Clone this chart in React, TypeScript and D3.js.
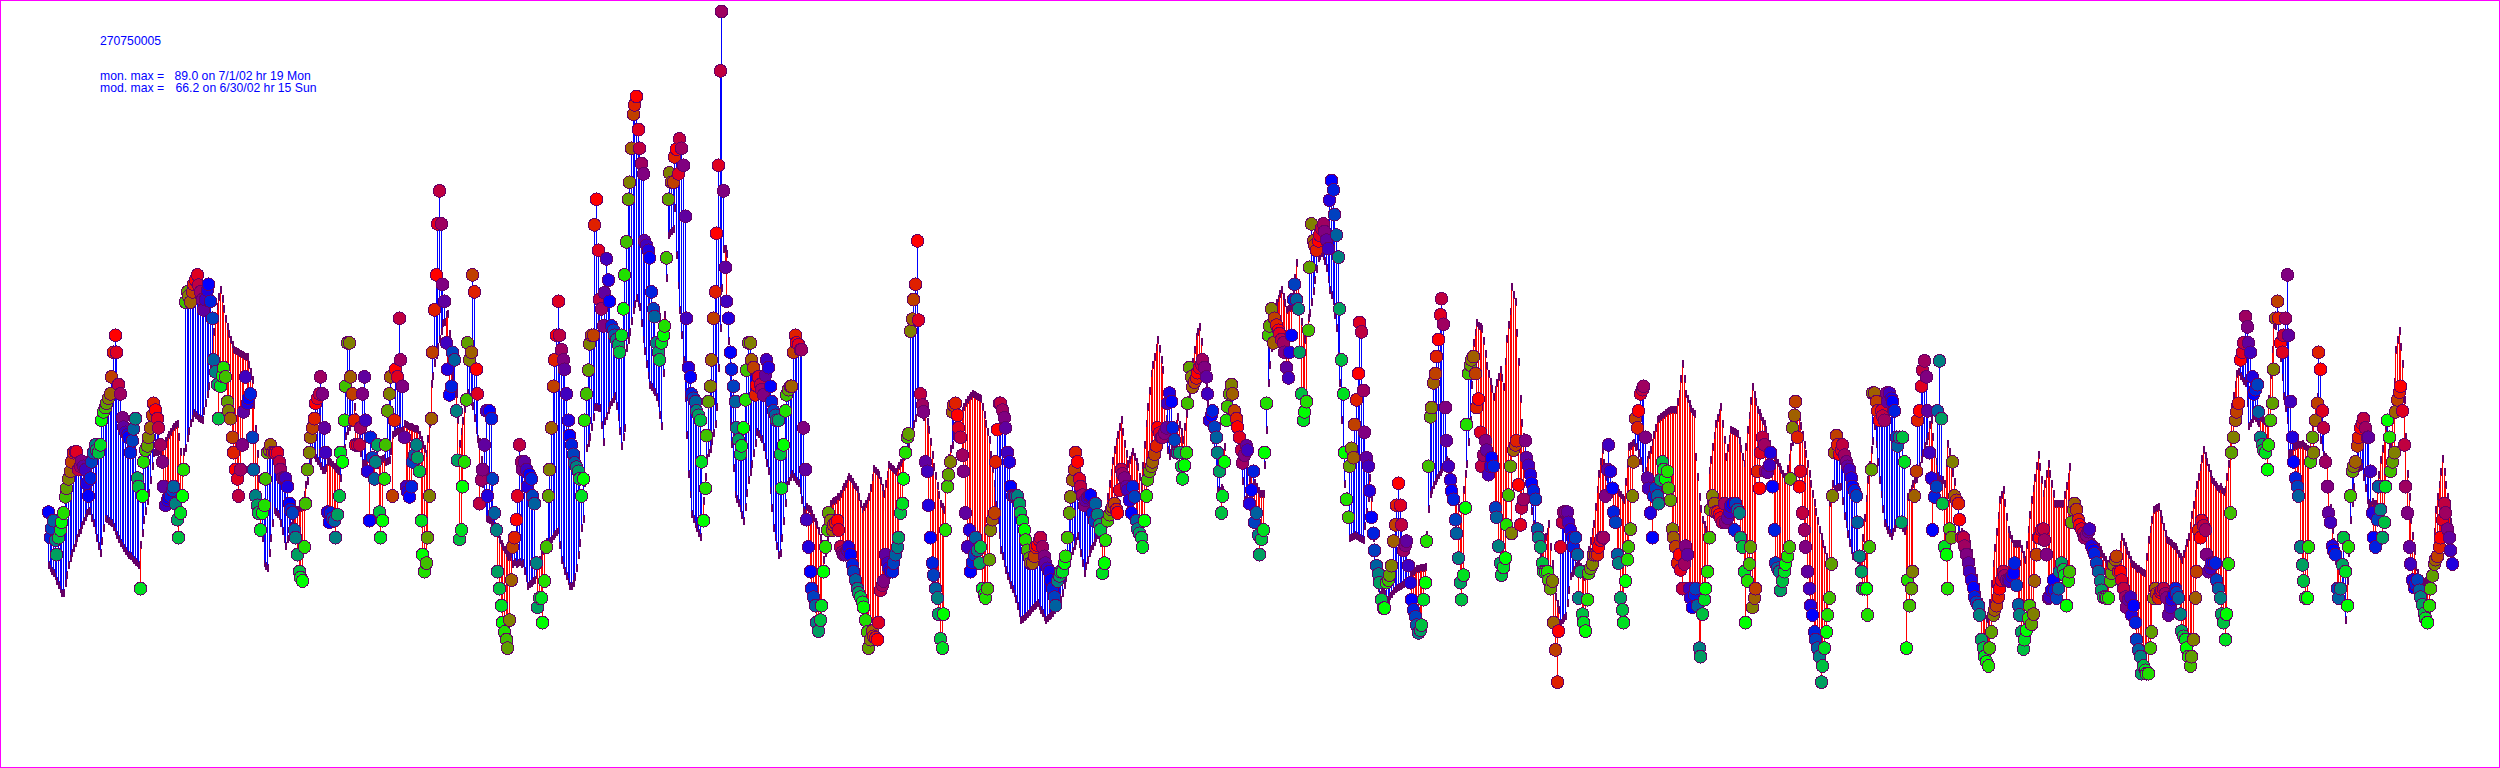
import React from "react";
import * as d3 from "d3";

const monA=[
[30.1,27.1,28.2,29.1,26.8,25.1,27.1,28,28.9,30,31.9,32.9,34,34.9,36,37.1,37.2,37.2,35.1,35.5,36.1,35.5,35.1,33.5],
[32,34.1,36,37.1,38,37.4,37.1,38,40.9,41.9,42.4,42.9,43.5,44,46,48.9,50.9,48.9,45.1,44,41.2,40.1,39.5,39.2],
[38.9,37.1,38.5,39.9,41.1,34.1,33.1,21.1,32,36,37.4,37.9,38.9,40,41.5,42.9,42.1,41.1,40,38,36,33.1,30.9,31.5],
[31.8,32,32.7,33.1,31.1,29.2,27.1,30,32,35.1,54.8,56,55.5,54.8,56,56.9,57.4,58,56.8,56,55.1,53.9,55.1,56.2],
[56.9,54.9,52.9,48,46.6,45.1,41.1,44.9,46.1,47.1,46,43.1,42,41.1,38.9,37.1,35.1,34,32,35.1,38,41.9,46,42.9],
[43.5,44,38.9,35.1,32,30.9,30,28,30,30.9,34,37.1,37.4,38,37.1,37.1,37.1,37.1,36,35.1,34.1,34.1,34.1,33.1],
[31.1,30.4,30,28,27.1,25.1,23.1,22.4,22,26,31.1,35.1,37.1,38.9,40,41.1,42.9,43.5,44,46,44,40,37.1,30.1],
[28.9,30,29.4,29.1,27.1,29.8,32,37.1,36,40.9,44.9,50,50,46,44,40.9,38,38,38,40,44,46,40.9,34.9],
[29.1,38.9,36.5,34,36,38,30.1,27.1,29.1,34,38,42,44,46,32,40.9,46.9,46,52.9,48,44.9,38.9,33.1,32.5],
[31.9,33.1,36,36.8,38,36.5,34.9,29.1,25.1,23.1,24.1,27.1,32,41.1,48.9,53.9,58,64,67.9,64,56.9,54.9,50,46.9]];
const monB=[
[43.9,44.9,48.9,48,42,36.2,26.9,28,33.1,36,43.3,50,48,48.9,58,56,46.9,44,31.1,33.9,35.1,38,42,32],
[42,41.1,34,30,28,23.1,21.1,19.1,17.1,16,15.1,14.1,17.4,22.1,26,27.1,29.2,32,38,36,35.1,36,35.1,33.1],
[34.5,34,32,31.1,24.1,18.9,20,20,17.1,22,26,32,35.1,40,44.9,48,50.9,54.9,50.9,49.2,48,46.9,44,40.9],
[39.1,38,36.9,35.9,35.4,34.9,34,32,34,40.9,44,46.8,49.9,50.9,50.9,63.9,66.9,60.9,55.1,54,52,55.9,59.9,57.4],
[54.9,52,51.5,50.9,50.4,49.8,48.9,50.9,54,58,61.9,66.9,68.9,72.9,76.9,78,79,75.1,72.9,71.1,69.9,62,61.5,60.9],
[60,56,54,53.1,50,48.9,48,50,50.9,52,60,66.9,70,68.9,68.9,71.9,72.8,69.9,74,72.9,70.9,64.9,52.9,47.1],
[46,44,43.5,43.1,42,41.5,40.9,36,29.1,32.9,39.1,43.1,44.9,48,52.9,56,62.9,70.9,82,89,67.9,58.9,54.9,52.9],
[48.9,46.9,44.9,43.1,40,38.6,36.9,37.9,40,43.3,46.8,50,50,48,47.1,43.9,45,46,45.1,44.5,43.9,46.2,48,47.1],
[44.9,43.1,42,41.5,40.9,40.9,36.9,32.9,38,42,43.9,44.5,44.9,44.9,48.9,50.9,50,49.8,49.2,49.2,40,35.1,29.2,26],
[23.1,21.1,20.1,19.1,17.1,16.1,17.4,19.1,23.1,26,28,30,29.1,28,28.6,28.8,29.1,28,26,25.4,25.1,25.1,25.6,26]];
const monC=[
[25.1,23.9,23.1,22.1,21.1,20.6,20.1,19.5,18.9,17.4,16,14.1,15.1,16.1,15.5,15.3,15.1,17.1,20.9,21.5,22,25.1,24.1,23.5],
[23.1,23.1,24.1,25.1,26,27.1,30,31.1,34,37.1,38.9,39.3,51.4,52.8,55.1,56.9,62,52.7,44,42.7,41.9,36,34.9,30.9],
[27.1,24.1,22.7,21.1,20,18.1,15.2,14.1,18.1,28,33.1,34.5,36,41.9,42.7,42.9,41.5,40,38.9,36.8,34.9,30,26,28],
[23.1,24.2,25.1,27.1,25.6,24.1,26,21.1,20.4,20,21.1,24.5,28,29.2,30,36,39.8,42.9,42.9,42.1,41.2,40,37.1,36],
[33.1,32,32,32,32,31.1,30,29.1,28,26.8,25.6,24.7,24.1,24.1,24.9,26,26.2,26.8,27.1,26,24.9,24.1,23.5,23.1],
[22.1,21.1,20.1,19.1,22,22.6,23.1,23.1,24.1,24.9,27.1,30,31.9,33.9,35.1,37.1,36,34,33.1,32.1,30.9,31.5,31.8,32],
[32.1,30,29.1,31.1,29.8,28.6,28,22.9,24.1,26.8,29.1,29.8,30.4,30.7,31.1,30.4,30,32.7,35.1,34.6,34.1,33.1,32.7,31.5],
[30,33.1,31.9,29.1,28.1,27.6,27.1,26,29.1,32,33.9,34.9,35.5,36,36.9,37.9,40,39.4,38.9,38.9,39.4,40,42.9,44.1],
[43.1,40,38.6,37.1,37.1,37.1,35.5,34,35.6,37.1,42.9,47.1,46,44.8,45.4,45.9,46.5,47.1,47.5,48,47.1,46,44,40.9],
[41.5,42,40.1,38.9,37.1,34.9,30,32,36,40.9,42.5,44,45.1,44,42,41.1,40.1,38.9,37.4,35.9,36.8,37.9,37.4,31.1]];
const monD=[
[32.7,34.9,28.9,30,27.4,25.1,26.9,28,37.1,42.9,50.9,52,54,50,52.9,52.1,51.5,51.1,50.4,50,48.9,47.1,45.9,48.9],
[50.9,55.1,56.9,55.1,54,48.9,44,40.9,41.9,43.1,51.5,58.9,64,62,61.5,60.9,62,62.7,63.5,64,63.1,62.1,61.1,66.8],
[69.1,68,65.1,62.7,60.1,54,48,44,37.1,31.6,29.5,35.5,37.6,36.5,40.4,43.3,46.4,52.4,51.3,44.4,39.5,36.5,35.5,32.6],
[29.5,27.6,25.6,23.8,22.8,21.8,19.8,18.8,18.8,21.8,22.1,22.7,23.8,26.7,28.6,30.9,33.5,30.9,28.6,25.6,26.2,26.7,23.8,21.8],
[19.8,18.6,17.8,16.8,15.9,16.2,16.8,19.8,21.8,26.7,35.5,41.3,42.4,45.3,46.4,48.4,50.4,53.3,55.2,52.2,42.4,38.5,35.5,33.9],
[32.6,31.6,29.2,27.6,24.7,21.8,19.8,22.7,30.6,40.4,46.4,47.4,48,48.4,46.4,42.4,43.4,39.5,35.5,36.8,38.5,37.4,34.5,35.5],
[36.5,35.5,30.6,29.5,26.1,24.1,22.7,23.6,24.7,28.6,32.1,35.5,27.6,37.4,38,38.5,33.3,28.6,30.6,31.6,38.5,36.5,35.6,34.5],
[33.5,32.6,31.6,28.1,27.1,26,24.1,23.1,23.1,23.1,22.1,21.1,22,17.1,13.9,10.1,16.1,26,28.9,30.1,30.1,30.1,28.9,28],
[27.1,26,27.1,25.1,20,23.1,18.1,17.1,16.1,19.8,22.9,23.5,24,25.1,25.1,25.1,26,26.8,27.1,27.1,32,35.1,38,34.9],
[32.9,30.1,28.9,25.1,24.1,20,18.6,17.1,22,24.5,26,28.1,32,36,41.1,40,42,44,44.5,44.9,38.9,34.1,32.9,30]];
const monE=[
[27.1,32,32.9,32,31.1,33.9,36,35.1,34,34.9,32.9,31.5,28.1,27.1,26,24.1,25.1,23.3,21.1,24,26.1,25.1,21.1,20],
[18.9,20.4,21.1,19.1,14.1,13.1,18.1,19.8,21.1,23.1,27.1,30.4,32,31.1,30.1,30.1,29.8,29.4,28.9,31.1,28.9,29.4,30.1,30.8],
[31.1,28,31.1,30.4,30,27.1,26,23.1,17.1,22,24,26,18.9,20,21.1,34.9,32.9,37.1,38.9,38,34.9,34.8,35.6,37.1],
[33.1,28,24.1,23.5,23.1,20.9,22,23.1,24,24.9,26,34,40,41.5,43.1,38.9,33.1,34.9,30,28,26,23.1,21.1,19.1],
[18,16,15.1,14.1,13.1,10.1,12,14.1,16,18,20,24,32,37.1,39.1,38,36.9,37.4,38,36.8,36,35.5,35.1,34.1],
[33.1,32.6,32,28.9,24.9,23.1,21.1,21.1,21.1,18,26,35.1,44.1,44.1,43.1,42,40.9,42,41.4,40.9,44.1,43.1,44.1,43.5],
[43.1,42,38.9,37.9,38.9,28.9,38.9,36,14.1,22.1,19.1,21.1,23.1,32,34.9,40.9,42,44.9,46.8,47.9,46,42,37.1,34.1],
[28,31.9,33.1,42,47.9,41.1,31.1,26,25.1,21.1,28.1,27.1,36,32,31.5,31.1,29.2,27.1,27.1,26.1,25.1,24.1,23.1,22.1],
[21.2,20.1,19.5,19.1,18,15.1,14.1,13.1,12.5,12,14.1,16,18,18.6,19.1,20.1,21.1,22.1,23.1,22.6,22.1,22.1,22,22.5],
[22.9,24.1,21.5,19.2,18,16,14,15.1,16.2,17.6,19.1,16.9,18.1,22,25.1,27.1,27.1,28,28.1,26.8,25.1,20,20.1,20.9]];
const monF=[
[22.1,20.9,20,21.1,23.1,24.1,23.3,22.7,19.1,22,23.1,28.9,30.4,31.1,30.4,29.2,28.6,28.1,27.6,27.1,27.4,27.8,28.1,26.1],
[25.6,25.2,24.1,23.1,22,20.9,20.1,20.1,20,20,22,22.9,23.9,24.5,24.9,23.1,23.1,22.1,21.1,20.1,18.9,19.8,20.1,18],
[19.1,17.1,15.1,13.9,13.1,11.1,12,11.5,11.1,11.1,14.1,16,20,21.1,20.5,20,20.7,20.9,21.1,20.5,20,18,18.9,19.8],
[20.4,21.1,20.6,20,18.1,16.1,15.5,15.1,14.1,13.1,12,13.1,15.1,20,23.1,28,27.1,29.1,28.5,28,25.1,23.1,23.5,24.1],
[24.1,24.1,22.1,21.1,20,18.1,17.1,15.1,18.1,24,30,37.1,38.9,40.9,41.9,42.9,48,48.9,50,53.1,51.9,50,48.9,46],
[44,44.5,45.1,41.9,38.9,38,37.4,37.1,35.1,38,40.9,42.9,46.9,52.9,54.9,52.9,50,48.9,50.9,52.9,58,50.9,43.1,38.9],
[36,34.1,33.1,32,26,23.9,22,20,20,26,36,38.9,37.1,40.9,42.9,48.9,46.9,42,40,36,33.1,30,28.9,26.1],
[25.6,25.1,21.1,20,21.1,23.9,27.1,23.1,19.1,26,32,34.9,35.5,36,37.9,38.9,40,40.5,41.1,40,38.9,38.9,34.9,30],
[27.1,26,29.2,33.1,30.4,27.1,28.9,33.1,40.9,38.9,34.9,36,37.1,41.9,43.3,44.2,44.9,42,38,33.1,30,26,24,22.1],
[21.2,21.6,22.1,20.9,20.1,19.2,18.2,17.6,17.1,19.1,21.1,22.6,24,24.5,24.9,26,27.1,29.2,31.1,30,28.1,27.1,25.6,24]];

// Hourly modelled values (ppb), one row per day
const modA=[
[24.2,23.9,23.5,23.3,22.9,22.4,21.9,21.4,20.9,20.9,22.1,23.1,24.2,25.1,25.6,26.2,26.8,27.4,28,28.4,28.9,29.4,29.9,30.4],
[30.6,30.6,29.8,29.2,28.4,27.4,26.5,25.6,27.1,28.6,29.8,29.6,29.4,29.3,29.2,28.7,28.2,27.8,27.3,26.8,26.6,26.2,25.9,25.6],
[25.4,25.3,25.1,24.8,24.6,24.5,24.2,25.9,28,29.5,30.6,31.8,32.7,34.2,35.9,37.4,37.5,37.5,37.6,37.6,37.8,37.8,38.1,38.5],
[38.8,39.2,39.5,39.8,40,40.1,38.6,36.8,35.1,36.8,38,39.2,40,40.9,41.5,42.1,41.9,41.8,41.5,41.4,41.3,42.4,43.3,44.4],
[45.3,47.4,49.2,50.9,52.5,53.9,55.1,55.9,54.8,53.6,52.5,51.5,50.7,50,49.4,48.8,48.7,48.6,48.5,48.4,48.2,48.1,48,48],
[47.1,46.2,45.3,42.4,39.5,36.6,33.6,30.4,27.4,24.5,24.1,23.9,25.6,27.4,29.2,30.7,30.5,30.2,30,29.2,28.2,27.3,26.5,27.3],
[28,28.8,29.5,29.8,29.9,30,30.1,30.2,30.4,31.8,32.9,34.1,35.4,36.5,37.4,37.2,36.8,36.5,36.2,35.9,35.4,35.4,35.6,35.6],
[35.6,35.5,35.3,35.1,34.8,34.6,34.5,34.5,36.2,38,39.4,40,40.5,40.9,41.5,42.1,40.9,39.8,38.6,37.4,36.2,36.2,36.2,36.2],
[36.2,36.2,36.2,36.2,36.1,36,35.9,35.9,36,36.1,36.4,36.5,36.6,37.6,38.8,39.8,39.9,40,40,40,40.1,40.1,40,39.9],
[39.8,39.8,39.6,39.5,39.5,39.4,38.8,38.2,37.6,37.2,36.6,38.4,40.1,44.8,46.5,48,48.9,49.9,50.8,51.8,52.7,52.8,52.9,53.1]];
const modB=[
[50.7,48.6,46.5,45.1,43.6,40.6,37.8,39.2,40.5,41.9,43.3,44.5,44,43.4,42.9,41.5,40.1,39.1,38,35.9,33.8,31.6,29.8,29.6],
[29.5,29.4,29.1,28.8,28,27.2,26.5,26,25.6,25.3,24.8,24.5,24.5,24.7,24.4,24.6,24.3,24.5,24.6,24.4,24.5,23.5,22.7,21.8],
[22,22.1,22.4,22.5,23.1,23.5,24.1,24.7,25.2,25.8,26.2,26.8,27.1,27.3,27.6,27.9,28.1,28.4,26.6,24.8,24.2,23.5,22.9,22.4],
[21.8,21.8,22.1,22.8,23.9,25.4,26.8,28.6,29.6,33.9,38,38.6,39.3,40.5,41.6,42.8,42.8,42.7,42.7,40.7,38.7,41.2,41.8,42.5],
[43.1,43.4,43.8,44.1,42.9,41.6,40,38.2,39.3,40.4,49.8,50.7,51.6,52.9,54.2,54.9,55.6,55.1,54.6,52.7,50.8,49.4,47.9,46.6],
[45.4,45.2,44.8,44.6,44,43.3,41.9,40.6,46.8,52.9,58,63.1,63.3,63.5,63.8,66.2,60.7,57.2,54.2,51.3,48.4,43.9,39.5,34.9],
[32.6,30.2,29.6,29.1,28.6,28,27.5,29.3,31.1,33.9,36.8,37.4,37.9,38.8,39.8,40.8,42.8,47.4,52.1,56.8,61.4,60.7,60.1,50.6],
[41.2,38.5,35.7,32.6,32,31.5,30.9,30.1,29.4,31.1,32.7,34.2,35.2,36.1,37.4,38.6,39.9,39.6,39.3,39.1,38.1,37.2,36.2,35.3],
[33.1,30.9,28.6,27.5,26.5,25.4,25.6,27.4,29.4,31.5,33.6,34.1,34.6,34.9,34.6,34.4,34.1,33.9,33.1,31.9,30.7,30.5,30.4,30.1],
[30,29.5,29.1,28.6,28.2,27.5,26.7,26,24.1,25.6,27.4,29.2,30.7,30.9,31.1,31.2,31.5,31.5,31.9,32.4,32.7,33.1,33.5,33.9]];
const modC=[
[33.6,33.3,32.9,32.7,32.4,31.5,30.7,30,30.4,30.7,31.1,31.5,32.6,33.8,34.8,34.6,34.4,34.1,33.4,32.6,31.9,33.1,34.1,35.3],
[35.1,34.8,34.7,34.5,34.8,35.2,35.5,35.9,36.2,37.1,37.8,38.6,39.3,40,40.8,41.5,42.2,42.9,42.4,42.1,41.6,41.3,40.4,39.4],
[38,36.5,35.1,34,32.8,31.8,30.7,30.4,30,32.5,35.1,36.1,37.2,38.4,39.4,39.9,40.4,40.8,41.3,41.6,42.1,42.6,42.9,43.2],
[43.4,43.6,43.5,43.4,43.3,43.2,43.1,42.1,41.2,40.1,39.2,38.2,36.5,34.8,33.1,31.3,29.5,27.8,26,25.3,24.5,23.7,22.9,22.5],
[21.9,21.4,20.9,20.2,19.4,18.6,17.8,17.9,18.1,18.2,18.5,18.7,18.9,19.2,19.4,19.5,19.8,19.4,18.9,18.6,18.1,17.8,18,18.2],
[18.4,18.6,18.9,19.2,19.5,19.8,20.1,20.9,21.9,22.7,23.7,24.5,25.3,25.9,26.5,27.1,27.6,26.7,25.6,24.5,23.3,24.1,24.8,25.6],
[26.1,26.5,26.9,27.4,27.8,27.3,26.8,26.5,28.1,29.8,31.5,33.1,34.4,35.8,37.1,38,38.8,39.8,40.6,39.2,37.8,36.6,35.4,35.9],
[36.4,36.8,36.2,35.6,35.1,33.9,32.7,35.2,37.6,40.1,42.1,44,46,47.1,48,49,50,48.9,47.6,46.5,43.5,40.7,37.8,37.1],
[37.9,38.6,39.4,40.1,40.9,40,39.2,38.2,39.8,41.3,42.9,44.5,45.9,47.4,48.8,50.4,50.9,51.5,49.8,48,46.8,45.6,43.3,41.9],
[40.4,38.9,37.4,35.3,33.1,32.9,32.6,32.4,37.4,42.5,42.4,42.2,42,41.9,41.8,40.4,39.1,37.6,36.2,34.1,31.9,32.5,33.1,33.6]];
const modD=[
[34.2,33.8,33.2,32.7,32.2,31.9,31.9,31.9,36,40.1,45.6,47.8,49.8,51.8,53.9,54.4,54.8,55.4,55.9,55.1,54.4,53.5,53.6,53.8],
[53.9,55.5,57.3,59,56.7,54.4,52.1,51.1,50,51.3,52.6,53.9,55.2,56.5,57.8,59.1,60.4,60.6,60.9,60.6,60,59.2,57.9,56.6],
[56,55.3,53.6,52.1,48.9,45.6,41.3,37.5,33.8,31.6,29.5,27.4,27.5,27.6,27.8,27.6,27.5,27.4,27.3,27.2,28.8,30.5,32.1,33.8],
[31.4,27.4,23.4,22.5,21.5,20.7,20.5,20.2,20.1,19.9,20.2,20.6,20.8,21.2,21.4,21.5,21.6,21.8,21.9,22,22.1,22.2,22.4,22.5],
[22.6,22.7,22.8,23.1,23.1,23.2,23.2,23.2,23.3,27.1,30.8,32.6,33.1,33.6,34.1,34.5,34.8,35.2,35.5,35.9,36.2,36.6,35.6,34.7],
[33.8,33.1,32.5,31.8,30.2,28.6,30.5,32.4,34.2,36.1,38.7,41.3,45.4,49.6,50.8,52,51.7,51.5,51.3,49.9,48.4,46.9,46,45.1],
[44.2,43.3,44.1,44.9,45.6,46.5,45.5,44.5,47.4,50.1,51.8,53.3,56.2,55.3,54.5,50.8,47.4,43,40.2,38.6,37,35.5,33.8,32.2],
[30.6,29,27.9,26.8,26,25.3,25.8,26.4,26.8,27.4,28.4,25.6,23.6,21.8,19.8,18.9,18.2,17.4,17.8,18,18.2,19.8,21.3,22.9],
[23.3,23.6,24.1,24.5,23.9,23.3,22.7,22.1,23.2,24.2,25.3,26.4,27.4,28.4,30.4,32.4,34.2,35.6,37.1,35.5,33.9,33.5,33.1,32.7],
[32.6,32.5,32.5,32.4,32,31.8,31.4,31.2,33.3,35.3,37.4,37.5,37.8,37.9,38.1,38.2,37.4,36.5,35.6,34.7,35.3,35.9,36.5,37.1]];
const modE=[
[37.9,38.8,39.6,40.6,40.7,40.9,41.1,41.2,41.4,41.5,41.6,41.8,41.8,41.8,41.8,42.7,43.6,45.4,47.2,45.4,43.6,43.1,42.5,41.9],
[41.5,41.3,36.2,33.9,31.5,30.1,28.8,28.2,27.6,31.1,34.6,35.9,37.4,38.7,40.1,40.8,41.4,42.1,40.1,38.2,36.2,37.3,38.4,39.4],
[39.3,39.2,39.1,38.9,38.1,37.2,36.2,35.4,37.4,39.4,41.1,42.8,44.5,43.5,42.7,41.8,41.4,40.9,40.5,40.1,39.4,38.6,37.8,37.1],
[36.7,36.2,35.9,35.5,35.1,34.7,34.2,33.9,33.5,34.8,36.1,37.4,38.7,40,41.3,41.1,40.9,39.9,38.8,37.6,36.6,35.4,34.2,33.1],
[31.9,30.8,29.8,28.7,27.6,26.8,26,25.3,24.5,23.7,30.8,32,33.1,33.2,33.3,33.4,33.4,33.5,31.8,30,29,27.9,26.8,26],
[25.3,25.2,25,24.8,24.7,24.5,26.7,29,31.3,33.5,35.3,37.1,38.8,40.6,38.5,36.4,34.2,32.6,30.8,29.2,28.8,28.4,28,27.6],
[28.1,28.6,29.1,29.5,29.2,28.9,28.6,28.2,28,31.5,32,32.5,33.1,33.5,34.4,35.1,35.9,36.7,37.4,38.2,38.8,39.4,40,40.6],
[38.6,36.6,35.6,34.7,34.4,33.9,33.5,33.1,35.4,37.8,36.8,36,35.1,33.3,31.5,28,27.8,27.4,27.2,26.8,26.6,26.2,26,24.9],
[23.9,22.8,22,20.9,20,19.2,18.2,17.6,17.2,16.6,19,21.3,23.7,25.5,27.4,29.3,31.2,31.8,32.4,30.8,29.2,27.6,27.1,26.6],
[26,26,26,26,26,25.4,24.7,24.1,25.9,27.6,29.4,31.2,32.5,33.8,35.2,36.5,35,33.5,31.9,33.1,34.2,35.4,34.2,33.1]];
const modF=[
[31.9,30.7,30.7,30.7,30.7,30.7,30.7,31.8,32.8,33.9,35.1,30,29.8,29.5,29.4,29.2,28.8,28.4,28,27.6,27.2,26.9,26.7,26.5],
[26.2,26,25.8,25.6,25.3,24.8,24.5,24.1,23.6,23.3,23.5,23.8,24.1,24.4,24.6,24.8,25.9,26.8,26.2,25.8,25.2,24.7,24.1,23.6],
[23.5,23.3,23.1,23.1,22.8,22.7,22.6,22.5,24.5,26.5,27.6,28.8,30,30.1,30.2,30.4,29.5,28.8,28,27.2,26.5,26.4,26.1,26],
[25.8,25.6,25.3,24.8,24.5,24.1,24.8,25.4,26.1,26.8,28.1,29.4,30.6,31.9,32.9,33.9,34.9,36,37.1,36.4,35.6,34.9,34.2,33.5],
[33.3,32.9,32.7,32.5,32.7,32.4,32.1,32.4,33.9,35.4,38.6,42.1,43.4,44.7,46,46.2,46.5,46.2,45.9,45.6,43.3,40.6,40.9,41.4],
[41.8,41.5,41.2,40.9,40.8,40.6,40.5,40.2,40.1,43,45.9,48.8,51.8,52.4,52.9,50.7,48.6,46.4,44.1,42.7,41.3,37.4,37.4,37.4],
[37.4,37.5,37.5,37.6,37.6,37.8,37.5,37.4,37.2,37.1,38.4,39.5,40.8,42.1,43.3,41.2,38.9,38.1,37.2,36.2,35.4,32.8,30.2,27.6],
[26.2,24.7,23.3,23.3,23.3,21.4,19.9,17.8,21.6,25.6,29.5,31.5,33.4,35.4,35.5,35.6,35.8,35.9,34.6,33.3,31.9,31.5,31.3,30.9],
[30.7,30.7,32.5,34.1,35.9,37.2,38.5,39.8,38.9,38.2,37.4,41.2,45,48.8,50,51.1,49.2,47.2,42.9,38.6,34.2,31.5,28.8,26.9],
[25.2,23.3,22.6,22,21.3,21.4,21.5,21.6,21.8,21.9,22.1,24.7,27.4,30,31.5,32.9,34.5,36,34.5,32.9,31.5,30.1,28.6,27.2]];

type Pt={t:number;hour:number;mon:number;mod:number};
const monDays=[...monA,...monB,...monC,...monD,...monE,...monF];
const modDays=[...modA,...modB,...modC,...modD,...modE,...modF];
const points:Pt[]=monDays.flatMap((day,d)=>day.map((mon,h)=>({t:d*24+h,hour:h,mon,mod:modDays[d][h]??mon})));

const x=d3.scaleLinear().domain([0,1439]).range([48,2452]);
const y=d3.scaleLinear().domain([0,90.35]).range([768,0]);
const hourColor=d3.scaleLinear<string>().domain([0,8,16,24]).range(["#0000ff","#00ff00","#ff0000","#0000ff"]).interpolate(d3.interpolateRgb);
const outline="#660066";
const px=(t:number)=>Math.round(x(t))+.5;

export default function App(){
 return <svg width={2500} height={768} style={{position:"absolute",left:0,top:0,background:"#fff"}}>
 <rect x={0} y={0} width={2500} height={768} fill="none" stroke="#ff00ff" strokeWidth={2}/>
 {points.map(p=>{const m=y(p.mod);const up=p.mon>p.mod;return <line key={p.t} x1={px(p.t)} x2={px(p.t)} y1={m+(up?-1:1)} y2={m+(up?7:-7)} stroke={outline} strokeWidth={2} shapeRendering="crispEdges"/>;})}
 {points.map(p=><line key={p.t} x1={px(p.t)} x2={px(p.t)} y1={y(p.mon)} y2={y(p.mod)} stroke={p.mon>p.mod?"#0000ff":"#ff0000"} strokeWidth={1} shapeRendering="crispEdges"/>)}
 {points.map(p=><circle key={p.t} cx={px(p.t)} cy={y(p.mon)} r={6.4} fill={hourColor(p.hour)} stroke={outline} strokeWidth={1} shapeRendering="crispEdges"/>)}
 <g fill="#0000ff" fontFamily="Liberation Sans" fontSize={12.2}>
 <text x={100} y={45}>270750005</text>
 <text x={100} y={80}>mon. max =<tspan x={174.5}>89.0 on 7/1/02 hr 19 Mon</tspan></text>
 <text x={100} y={92}>mod. max =<tspan x={175.5}>66.2 on 6/30/02 hr 15 Sun</tspan></text>
 </g></svg>;
}
